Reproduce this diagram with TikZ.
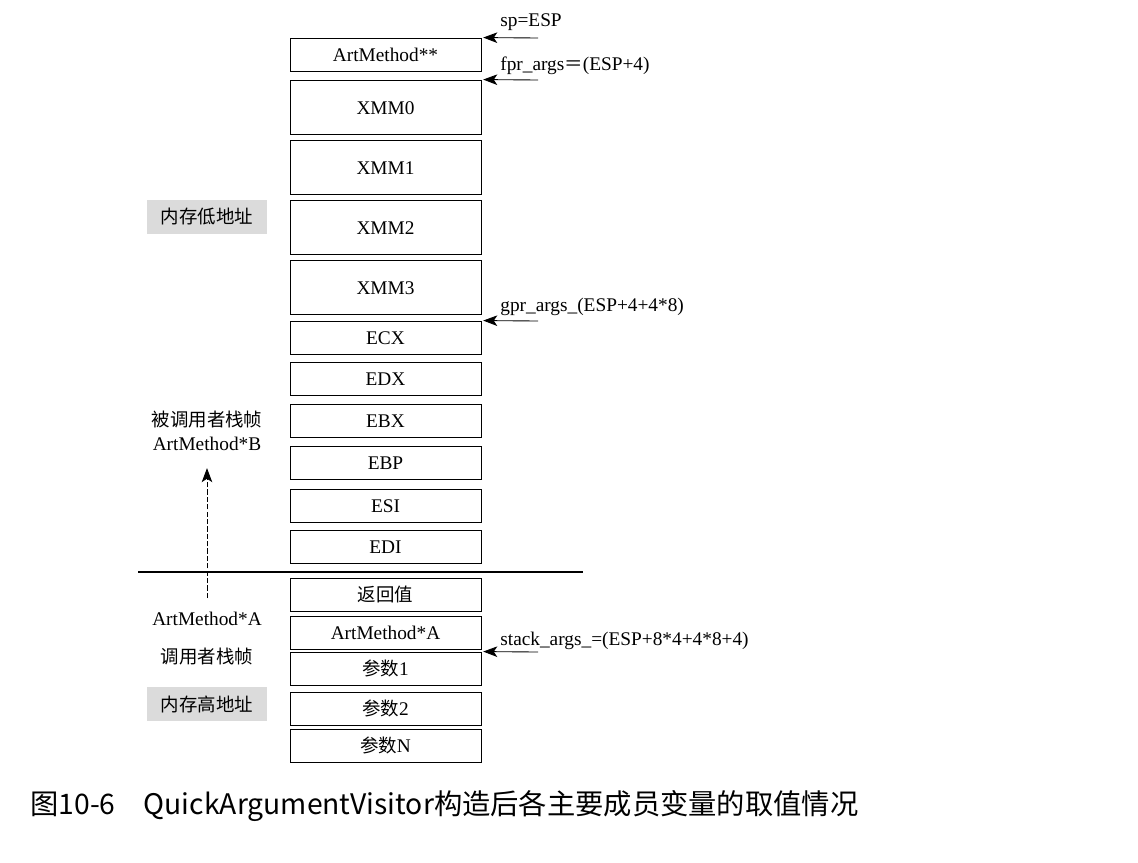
\documentclass[tikz,border=0pt]{standalone}
\usepackage{fontspec}
\setmainfont{Liberation Serif}
\newfontfamily\cjk{Noto Sans CJK SC}
\newcommand{\zh}[1]{{\cjk\fontsize{10.5}{13}\selectfont #1}}
\usetikzlibrary{arrows.meta}

\begin{document}
\begin{tikzpicture}
[x=0.02cm,y=-0.02cm,
  slot/.style={draw,line width=0.5pt,minimum width=191*0.02cm,inner sep=0pt,
    text height=8.5pt,text depth=0pt,font=\fontsize{11}{13}\selectfont},%
  ptr/.style={-{Stealth[length=8pt,width=6pt,inset=2pt]},line width=0.5pt},%
  addr/.style={fill=black!14,minimum width=120*0.02cm,minimum height=34*0.02cm,
    inner sep=0pt},%
  note/.style={inner sep=0pt,font=\fontsize{11}{13}\selectfont}]
\useasboundingbox (0,0) rectangle (1138,862);
%% stack slots
\foreach \name/\txt/\y/\h in {am/ArtMethod**/54.5/33, xmm0/XMM0/107/54,
  xmm1/XMM1/167/54, xmm2/XMM2/227/54, xmm3/XMM3/287/54, ecx/ECX/337.5/33,
  edx/EDX/378.5/33, ebx/EBX/420.5/33, ebp/EBP/462.5/33, esi/ESI/505.5/33,
  edi/EDI/546.5/33, ret/\zh{返回值}/594.5/33, ama/ArtMethod*A/632.5/33,
  arg1/\zh{参数}1/668.5/33, arg2/\zh{参数}2/708.5/33, argn/\zh{参数}N/745.5/33} {
  \node (\name) at (385.5,\y) [slot,minimum height=\h*0.02cm] {\txt};
}
%% pointer labels
\node (splbl) at (500,27) [note,anchor=base west] {sp=ESP};
\node (fprlbl) at (500,70) [note,anchor=base west] {fpr\_args\zh{＝}(ESP+4)};
\node (gprlbl) at (500,311) [note,anchor=base west] {gpr\_args\_(ESP+4+4*8)};
\node (stklbl) at (500,645) [note,anchor=base west] {stack\_args\_=(ESP+8*4+4*8+4)};
\coordinate (spsrc) at (538,38);
\coordinate (fprsrc) at (538,80);
\coordinate (gprsrc) at (538,321);
\coordinate (stksrc) at (538,652);
\path
\foreach \startnode/\endnode in {spsrc/am, fprsrc/xmm0, gprsrc/ecx, stksrc/arg1} {
  (\startnode) edge[ptr,shorten >=1pt] (\endnode.north east)
};
%% left side
\node (low) at (207,217) [addr] {\zh{内存低地址}};
\node (high) at (207,704) [addr] {\zh{内存高地址}};
\node (callee) at (207,420) [note] {\zh{被调用者栈帧}};
\node (calleeB) at (207,444) [note] {ArtMethod*B};
\node (callerA) at (207,619) [note] {ArtMethod*A};
\node (caller) at (207,657) [note] {\zh{调用者栈帧}};
\coordinate (sepL) at (138,572);
\coordinate (sepR) at (583,572);
\draw[line width=0.6pt] (sepL) -- (sepR);
\coordinate (upsrc) at (207,598);
\draw[ptr,dash pattern=on 3pt off 1.2pt,shorten >=0.34cm] (upsrc) -- (calleeB.south);
%% caption
\node (caption) at (30,806) [anchor=west,inner sep=0pt,
  font=\cjk\fontsize{16.1}{19}\selectfont] {图10-6　QuickArgumentVisitor构造后各主要成员变量的取值情况};
\end{tikzpicture}
\end{document}
